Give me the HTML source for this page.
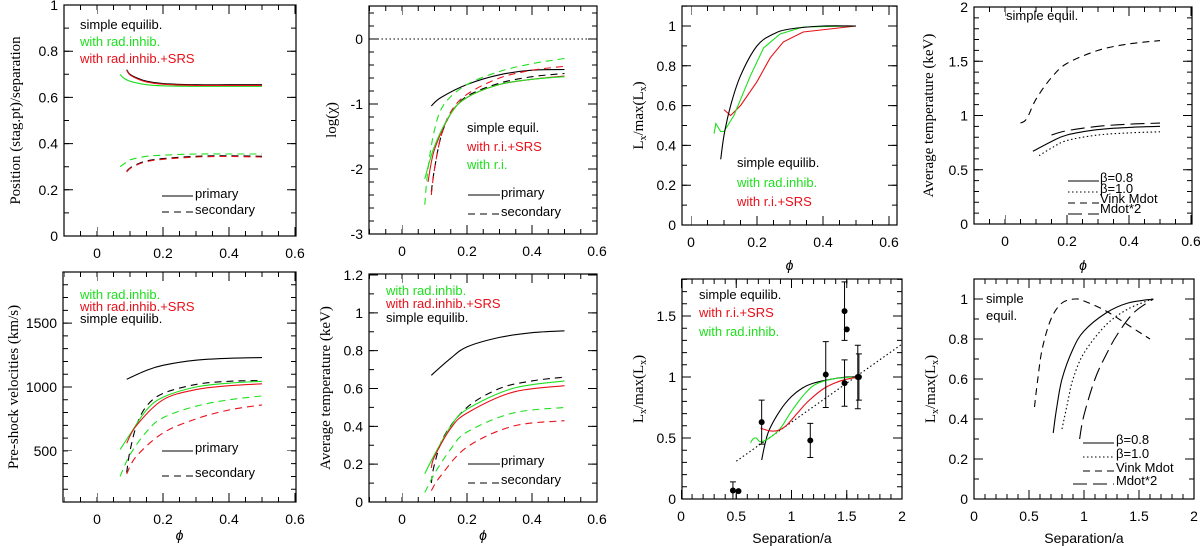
<!DOCTYPE html>
<html><head><meta charset="utf-8">
<style>
html,body{margin:0;padding:0;background:#fff;}
svg{display:block;font-family:"Liberation Sans",sans-serif;}
.tl{font-size:14px;fill:#000;}
.lg{font-size:13px;}
.yt{font-family:"Liberation Serif",serif;font-size:15px;}
</style></head>
<body>
<svg id="fig" width="1200" height="546" viewBox="0 0 1200 546" xmlns="http://www.w3.org/2000/svg"></svg>
<script>
// ---------- DATA ----------
const p1_blk_pri_x=[0.09,0.1,0.12,0.15,0.2,0.3,0.4,0.5];
const p1_blk_pri_y=[0.72,0.70,0.685,0.67,0.66,0.655,0.655,0.655];
const p1_grn_pri_x=[0.07,0.08,0.1,0.15,0.2,0.3,0.5];
const p1_grn_pri_y=[0.70,0.685,0.67,0.655,0.65,0.648,0.648];
const p1_blk_sec_x=[0.09,0.1,0.12,0.15,0.2,0.3,0.4,0.5];
const p1_blk_sec_y=[0.28,0.295,0.31,0.325,0.335,0.345,0.347,0.345];
const p1_grn_sec_x=[0.07,0.09,0.1,0.15,0.2,0.3,0.4,0.5];
const p1_grn_sec_y=[0.30,0.32,0.33,0.345,0.35,0.355,0.355,0.355];
const p2_x_bs=[0.09,0.12,0.2,0.3,0.4,0.5];
const p2_y_bs=[-1.03,-0.9,-0.7,-0.55,-0.48,-0.47];
const p2_x_bd=[0.09,0.1,0.12,0.15,0.2,0.3,0.4,0.5];
const p2_y_bd=[-2.35,-2.0,-1.5,-1.15,-0.88,-0.68,-0.58,-0.53];
const p2_x_rd=[0.09,0.1,0.12,0.15,0.2,0.3,0.4,0.5];
const p2_y_rd=[-2.4,-2.0,-1.5,-1.12,-0.85,-0.6,-0.48,-0.42];
const p2_x_rs=[0.08,0.1,0.15,0.2,0.3,0.4,0.5];
const p2_y_rs=[-2.2,-1.7,-1.15,-0.9,-0.7,-0.62,-0.57];
const p2_x_gs=[0.07,0.1,0.15,0.2,0.3,0.4,0.5];
const p2_y_gs=[-2.15,-1.65,-1.15,-0.9,-0.7,-0.62,-0.58];
const p2_x_gd=[0.07,0.08,0.1,0.13,0.2,0.3,0.4,0.5];
const p2_y_gd=[-2.55,-2.0,-1.4,-1.0,-0.7,-0.5,-0.38,-0.3];
const p3_x_b=[0.09,0.1,0.12,0.15,0.2,0.25,0.3,0.4,0.5];
const p3_y_b=[0.33,0.45,0.6,0.75,0.9,0.96,0.985,1.0,1.0];
const p3_x_g=[0.07,0.075,0.09,0.1,0.13,0.18,0.22,0.27,0.34,0.5];
const p3_y_g=[0.46,0.51,0.47,0.47,0.55,0.75,0.89,0.96,0.995,1.0];
const p3_x_r=[0.1,0.12,0.15,0.2,0.24,0.28,0.34,0.5];
const p3_y_r=[0.58,0.55,0.6,0.72,0.84,0.92,0.97,1.0];
const p4_x_vink=[0.05,0.07,0.1,0.15,0.2,0.3,0.4,0.5];
const p4_y_vink=[0.93,0.97,1.15,1.35,1.48,1.6,1.66,1.69];
const p4_x_b08=[0.09,0.15,0.2,0.3,0.4,0.5];
const p4_y_b08=[0.67,0.76,0.82,0.87,0.89,0.9];
const p4_x_b10=[0.11,0.15,0.2,0.3,0.4,0.5];
const p4_y_b10=[0.63,0.7,0.77,0.82,0.84,0.85];
const p4_x_m2=[0.15,0.2,0.3,0.4,0.5];
const p4_y_m2=[0.82,0.86,0.9,0.92,0.93];
const p5_x_bs=[0.09,0.15,0.2,0.3,0.4,0.5];
const p5_y_bs=[1060,1130,1170,1210,1225,1230];
const p5_x_bd=[0.09,0.1,0.12,0.15,0.2,0.3,0.4,0.5];
const p5_y_bd=[330,500,700,850,950,1020,1045,1050];
const p5_x_gs=[0.07,0.1,0.15,0.2,0.3,0.4,0.5];
const p5_y_gs=[510,630,820,920,1000,1030,1045];
const p5_x_rs=[0.09,0.12,0.2,0.3,0.4,0.5];
const p5_y_rs=[560,700,900,980,1010,1025];
const p5_x_gd=[0.07,0.1,0.15,0.2,0.3,0.4,0.5];
const p5_y_gd=[300,470,650,760,850,900,930];
const p5_x_rd=[0.09,0.12,0.2,0.3,0.4,0.5];
const p5_y_rd=[320,460,640,750,820,860];
const p6_x_bs=[0.09,0.15,0.2,0.3,0.4,0.5];
const p6_y_bs=[0.67,0.76,0.82,0.87,0.895,0.905];
const p6_x_bd=[0.09,0.1,0.13,0.2,0.3,0.4,0.5];
const p6_y_bd=[0.1,0.2,0.35,0.5,0.6,0.64,0.66];
const p6_x_gs=[0.07,0.1,0.15,0.2,0.34,0.5];
const p6_y_gs=[0.15,0.25,0.4,0.49,0.6,0.64];
const p6_x_rs=[0.09,0.1,0.15,0.2,0.34,0.5];
const p6_y_rs=[0.18,0.24,0.39,0.47,0.58,0.615];
const p6_x_gd=[0.07,0.1,0.15,0.2,0.34,0.5];
const p6_y_gd=[0.05,0.15,0.28,0.37,0.47,0.5];
const p6_x_rd=[0.09,0.12,0.2,0.34,0.5];
const p6_y_rd=[0.06,0.14,0.29,0.4,0.43];
const p7_obs_x=[0.47,0.52,0.73,1.17,1.31,1.48,1.5,1.48,1.6,1.61];
const p7_obs_y=[0.07,0.065,0.63,0.48,1.02,1.54,1.39,0.95,1.0,1.0];
const p7_obs_err=[0.07,0,0.18,0.14,0.27,0.24,0,0.19,0.26,0.19];
const p7_fit_x=[0.5,2.0];
const p7_fit_y=[0.31,1.27];
const p7_x_b=[0.73,0.76,0.8,0.9,1.0,1.1,1.2,1.35,1.5,1.6];
const p7_y_b=[0.32,0.45,0.57,0.73,0.84,0.91,0.95,0.98,1.0,1.0];
const p7_x_g=[0.63,0.65,0.68,0.72,0.8,0.9,1.0,1.1,1.2,1.35,1.55];
const p7_y_g=[0.46,0.49,0.5,0.47,0.5,0.58,0.72,0.84,0.93,0.98,1.0];
const p7_x_r=[0.72,0.8,0.87,0.95,1.05,1.15,1.3,1.45,1.6];
const p7_y_r=[0.58,0.56,0.56,0.6,0.7,0.8,0.91,0.97,1.0];
const p8_x_vink=[0.55,0.58,0.62,0.7,0.8,0.92,1.0,1.2,1.4,1.6];
const p8_y_vink=[0.46,0.6,0.75,0.9,0.98,1.0,0.99,0.94,0.87,0.8];
const p8_x_b08=[0.72,0.75,0.8,0.9,1.0,1.2,1.4,1.63];
const p8_y_b08=[0.33,0.45,0.6,0.75,0.84,0.93,0.98,1.0];
const p8_x_b10=[0.8,0.85,0.9,1.0,1.2,1.4,1.62];
const p8_y_b10=[0.35,0.48,0.6,0.73,0.87,0.95,1.0];
const p8_x_m2=[0.96,1.0,1.1,1.2,1.3,1.45,1.63];
const p8_y_m2=[0.3,0.42,0.6,0.72,0.82,0.93,1.0];
const phiTicks=[0,0.2,0.4,0.6];
const sepTicks=[0,0.5,1,1.5,2];

// ---------- DRAWING ----------
const NS="http://www.w3.org/2000/svg";
const svg=document.getElementById('fig');
const GRN="#1ee01e", RED="#e8101a";
function el(tag,attrs,parent){const e=document.createElementNS(NS,tag);for(const k in attrs)e.setAttribute(k,attrs[k]);(parent||svg).appendChild(e);return e;}
function fmt(v){return (Math.round(v*1000)/1000).toString();}
function smoothPath(pts){
  if(pts.length<3) return pts.map((p,i)=>(i?'L':'M')+p[0].toFixed(1)+' '+p[1].toFixed(1)).join(' ');
  let d='M'+pts[0][0].toFixed(1)+' '+pts[0][1].toFixed(1);
  for(let i=0;i<pts.length-1;i++){
    const p0=pts[Math.max(0,i-1)],p1=pts[i],p2=pts[i+1],p3=pts[Math.min(pts.length-1,i+2)];
    const c1=[p1[0]+(p2[0]-p0[0])/6,p1[1]+(p2[1]-p0[1])/6];
    const c2=[p2[0]-(p3[0]-p1[0])/6,p2[1]-(p3[1]-p1[1])/6];
    d+=` C${c1[0].toFixed(1)} ${c1[1].toFixed(1)} ${c2[0].toFixed(1)} ${c2[1].toFixed(1)} ${p2[0].toFixed(1)} ${p2[1].toFixed(1)}`;
  }
  return d;
}

function makePanel(cfg){
  const g=el('g',{});
  
  
  const [L,T,R,B]=cfg.box;
  const sx=v=>cfg.xm[1]+(v-cfg.xm[0])*(cfg.xm[3]-cfg.xm[1])/(cfg.xm[2]-cfg.xm[0]);
  const sy=v=>cfg.ym[1]+(v-cfg.ym[0])*(cfg.ym[3]-cfg.ym[1])/(cfg.ym[2]-cfg.ym[0]);
  const frame=el('rect',{x:L,y:T,width:R-L,height:B-T,fill:'none',stroke:'#000','stroke-width':1.2},g);
  
  
  // ticks drawn as dashed strokes along each edge
  function tickRow(x1,y1,x2,y2,step,len){
    const n=Math.hypot(x2-x1,y2-y1);
    const l=el('line',{x1:x1,y1:y1,x2:x2,y2:y2,stroke:'#000','stroke-width':len,'stroke-dasharray':`1 ${(step-1).toFixed(3)}`,'stroke-dashoffset':0.5},g);
    
    
  }
  const xr=cfg.xr, yr=cfg.yr;
  const xs0=sx(xr[0]), xs1=sx(xr[1]);
  const xmin=Math.abs(sx(cfg.xt[0])-sx(0)), xmaj=Math.abs(sx(cfg.xt[1])-sx(0));
  const ys0=sy(yr[0]), ys1=sy(yr[1]);
  const ymin=Math.abs(sy(cfg.yt[0])-sy(0)), ymaj=Math.abs(sy(cfg.yt[1])-sy(0));
  // first major tick offset
  const xfm=sx(Math.ceil(xr[0]/cfg.xt[1]-1e-6)*cfg.xt[1]);
  const yfm=sy(Math.ceil(yr[0]/cfg.yt[1]-1e-6)*cfg.yt[1]);
  tickRow(xs0,B-2.5,xs1+1,B-2.5,xmin,5);
  tickRow(xs0,T+2.5,xs1+1,T+2.5,xmin,5);
  tickRow(xfm,B-4.5,xs1+1,B-4.5,xmaj,9);
  tickRow(xfm,T+4.5,xs1+1,T+4.5,xmaj,9);
  tickRow(L+2.5,ys0,L+2.5,ys1-1,ymin,5);
  tickRow(R-2.5,ys0,R-2.5,ys1-1,ymin,5);
  tickRow(L+4.5,yfm,L+4.5,ys1-1,ymaj,9);
  tickRow(R-4.5,yfm,R-4.5,ys1-1,ymaj,9);
  cfg.xlabels.forEach(v=>{const t=el('text',{x:sx(v),y:B+22,'text-anchor':'middle',class:'tl'},g);t.textContent=fmt(v);
    });
  cfg.ylabels.forEach(v=>{const t=el('text',{x:L-6,y:sy(v)+5,'text-anchor':'end',class:'tl'},g);t.textContent=fmt(v);
    });
  const xt=el('text',{x:(L+R)/2,y:cfg.xtitleY,'text-anchor':'middle',class:'tl','font-style':cfg.xtitle==='ϕ'?'italic':'normal'},g);
  xt.textContent=cfg.xtitle;
  
  
  const yc=(T+B)/2;
  const yt=el('text',{x:cfg.ytitleX,y:yc,'text-anchor':'middle',class:'yt',transform:`rotate(-90 ${cfg.ytitleX} ${yc})`},g);
  yt.innerHTML=cfg.ytitle;
  
  
  const cid='clip'+cfg.name;
  const cp=el('clipPath',{id:cid},g);el('rect',{x:L,y:T,width:R-L,height:B-T},cp);
  const sg=el('g',{'clip-path':`url(#${cid})`},g);
  function series(xs,ys,color,dash,nm,straight){
    const pts=xs.map((x,i)=>[sx(x),sy(ys[i])]);
    const d=straight?pts.map((p,i)=>(i?'L':'M')+p[0].toFixed(1)+' '+p[1].toFixed(1)).join(' '):smoothPath(pts);
    const p=el('path',{d:d,fill:'none',stroke:color,'stroke-width':1.1,'stroke-dasharray':dash||'none'},sg);
    
    
  }
  function text(x,y,s,color,nm,cls){const t=el('text',{x:x,y:y,fill:color||'#000',class:cls||'lg'},g);t.innerHTML=s;
    return t;}
  function legLine(x1,x2,y,dash,nm){const l=el('line',{x1:x1,x2:x2,y1:y,y2:y,stroke:'#000','stroke-width':1,'stroke-dasharray':dash||'none'},g);
    }
  return {g,sx,sy,series,text,legLine,sg};
}
const DASH="7 5", LDASH="14 6", DOT="1.5 2.5";
const LXT='L<tspan font-size="10" dy="3">x</tspan><tspan dy="-3">/max(L</tspan><tspan font-size="10" dy="3">x</tspan><tspan dy="-3">)</tspan>';

// Panel 1
let P=makePanel({name:'panel-stag-position',box:[64,5,296,236],xm:[0,97,0.2,163],ym:[0,236,1,5],xr:[-0.1,0.6],yr:[0,1],xt:[0.05,0.2],yt:[0.1,0.2],
  xlabels:phiTicks,ylabels:[0,0.2,0.4,0.6,0.8,1],xtitle:'',xtitleY:268,ytitleX:20,ytitle:'Position (stag.pt)/separation'});
P.series(p1_grn_pri_x,p1_grn_pri_y,GRN,null,'green-primary');
P.series(p1_blk_pri_x,p1_blk_pri_y,'#000',null,'black-primary');
P.series(p1_blk_pri_x,p1_blk_pri_y.map(v=>v-0.003),RED,null,'red-primary');
P.series(p1_grn_sec_x,p1_grn_sec_y,GRN,DASH,'green-secondary');
P.series(p1_blk_sec_x,p1_blk_sec_y,'#000',DASH,'black-secondary');
P.series(p1_blk_sec_x,p1_blk_sec_y.map(v=>v-0.003),RED,DASH,'red-secondary');
P.text(80,29,'simple equilib.','#000','legend-simple');
P.text(80,46,'with rad.inhib.',GRN,'legend-radinhib');
P.text(80,63,'with rad.inhib.+SRS',RED,'legend-radinhib-srs');
P.legLine(162,193,196,null,'legend-line-primary');P.text(195,198,'primary','#000','legend-primary');
P.legLine(162,193,212,DASH,'legend-line-secondary');P.text(195,214,'secondary','#000','legend-secondary');

// Panel 2
P=makePanel({name:'panel-log-chi',box:[369,6,597,234],xm:[0,402,0.2,467],ym:[0,39,-3,234],xr:[-0.1,0.6],yr:[-3,0.4],xt:[0.05,0.2],yt:[0.2,1],
  xlabels:phiTicks,ylabels:[-3,-2,-1,0],xtitle:'',xtitleY:268,ytitleX:336,ytitle:'log(χ)'});
P.series([-0.1,0.6],[0,0],'#000',DOT,'zero-line',true);
P.series(p2_x_bs,p2_y_bs,'#000',null,'black-primary');
P.series(p2_x_gd,p2_y_gd,GRN,DASH,'green-secondary');
P.series(p2_x_bd,p2_y_bd,'#000',DASH,'black-secondary');
P.series(p2_x_rd,p2_y_rd,RED,DASH,'red-secondary');
P.series(p2_x_rs,p2_y_rs,RED,null,'red-primary');
P.series(p2_x_gs,p2_y_gs,GRN,null,'green-primary');
P.text(467,132,'simple equil.','#000','legend-simple');
P.text(467,151,'with r.i.+SRS',RED,'legend-ri-srs');
P.text(467,169,'with r.i.',GRN,'legend-ri');
P.legLine(468,500,195,null,'legend-line-primary');P.text(501,197,'primary','#000','legend-primary');
P.legLine(468,500,214,DASH,'legend-line-secondary');P.text(501,216,'secondary','#000','legend-secondary');

// Panel 3
P=makePanel({name:'panel-lx-phi',box:[682,6,897,225],xm:[0.2,757,0.4,823],ym:[0,225,1,26],xr:[0,0.6],yr:[0,1.1],xt:[0.05,0.2],yt:[0.1,0.2],
  xlabels:phiTicks,ylabels:[0,0.2,0.4,0.6,0.8,1],xtitle:'ϕ',xtitleY:270,ytitleX:643,ytitle:LXT});
P.series(p3_x_r,p3_y_r,RED,null,'red-curve',true);
P.series(p3_x_g,p3_y_g,GRN,null,'green-curve',true);
P.series(p3_x_b,p3_y_b,'#000',null,'black-curve');
P.text(737,167,'simple equilib.','#000','legend-simple');
P.text(737,187,'with rad.inhib.',GRN,'legend-radinhib');
P.text(737,206,'with r.i.+SRS',RED,'legend-ri-srs');

// Panel 4
P=makePanel({name:'panel-temp-wind',box:[974,7,1192,224],xm:[0,1005,0.2,1067],ym:[0,224,2,7],xr:[-0.1,0.6],yr:[0,2],xt:[0.05,0.2],yt:[0.1,0.5],
  xlabels:phiTicks,ylabels:[0,0.5,1,1.5,2],xtitle:'ϕ',xtitleY:270,ytitleX:933,ytitle:'Average temperature (keV)'});
P.series(p4_x_vink,p4_y_vink,'#000',DASH,'vink-mdot');
P.series(p4_x_b08,p4_y_b08,'#000',null,'beta-0.8');
P.series(p4_x_b10,p4_y_b10,'#000',DOT,'beta-1.0');
P.series(p4_x_m2,p4_y_m2,'#000',LDASH,'mdot-x2');
P.text(1006,20,'simple equil.','#000','panel-note');
P.legLine(1068,1099,181,null,'legend-line-beta08');P.text(1100,182,'β=0.8','#000','legend-beta08');
P.legLine(1068,1099,192,DOT,'legend-line-beta10');P.text(1100,193,'β=1.0','#000','legend-beta10');
P.legLine(1068,1099,203,DASH,'legend-line-vink');P.text(1100,203,'Vink Mdot','#000','legend-vink');
P.legLine(1068,1099,214,LDASH,'legend-line-mdot2');P.text(1100,213,'Mdot*2','#000','legend-mdot2');

// Panel 5
P=makePanel({name:'panel-velocity',box:[63,272,296,502],xm:[0,97,0.2,163],ym:[100,502,1900,272],xr:[-0.1,0.6],yr:[100,1900],xt:[0.05,0.2],yt:[100,500],
  xlabels:phiTicks,ylabels:[500,1000,1500],xtitle:'ϕ',xtitleY:540,ytitleX:18,ytitle:'Pre-shock velocities (km/s)'});
P.series(p5_x_bs,p5_y_bs,'#000',null,'black-primary');
P.series(p5_x_bd,p5_y_bd,'#000',DASH,'black-secondary');
P.series(p5_x_gs,p5_y_gs,GRN,null,'green-primary');
P.series(p5_x_rs,p5_y_rs,RED,null,'red-primary');
P.series(p5_x_gd,p5_y_gd,GRN,DASH,'green-secondary');
P.series(p5_x_rd,p5_y_rd,RED,DASH,'red-secondary');
P.text(80,299,'with rad.inhib.',GRN,'legend-radinhib');
P.text(80,311,'with rad.inhib.+SRS',RED,'legend-radinhib-srs');
P.text(80,323,'simple equilib.','#000','legend-simple');
P.legLine(162,193,451,null,'legend-line-primary');P.text(195,452,'primary','#000','legend-primary');
P.legLine(162,193,476,DASH,'legend-line-secondary');P.text(195,477,'secondary','#000','legend-secondary');

// Panel 6
P=makePanel({name:'panel-temperature',box:[369,274,597,502],xm:[0,402,0.2,467],ym:[0,502,1.2,275],xr:[-0.1,0.6],yr:[0,1.2],xt:[0.05,0.2],yt:[0.1,0.2],
  xlabels:phiTicks,ylabels:[0,0.2,0.4,0.6,0.8,1,1.2],xtitle:'ϕ',xtitleY:540,ytitleX:330,ytitle:'Average temperature (keV)'});
P.series(p6_x_bs,p6_y_bs,'#000',null,'black-primary');
P.series(p6_x_bd,p6_y_bd,'#000',DASH,'black-secondary');
P.series(p6_x_gs,p6_y_gs,GRN,null,'green-primary');
P.series(p6_x_rs,p6_y_rs,RED,null,'red-primary');
P.series(p6_x_gd,p6_y_gd,GRN,DASH,'green-secondary');
P.series(p6_x_rd,p6_y_rd,RED,DASH,'red-secondary');
P.text(386,295,'with rad.inhib.',GRN,'legend-radinhib');
P.text(386,308,'with rad.inhib.+SRS',RED,'legend-radinhib-srs');
P.text(386,322,'simple equilib.','#000','legend-simple');
P.legLine(468,500,464,null,'legend-line-primary');P.text(501,465,'primary','#000','legend-primary');
P.legLine(468,500,483,DASH,'legend-line-secondary');P.text(501,484,'secondary','#000','legend-secondary');

// Panel 7
P=makePanel({name:'panel-lx-separation',box:[682,279,902,499],xm:[0,681,2,902],ym:[0,499,1,377],xr:[0,2],yr:[0,1.8],xt:[0.1,0.5],yt:[0.1,0.5],
  xlabels:sepTicks,ylabels:[0,0.5,1,1.5],xtitle:'Separation/a',xtitleY:543,ytitleX:643,ytitle:LXT});
P.series(p7_fit_x,p7_fit_y,'#000',DOT,'linear-fit',true);
P.series(p7_x_b,p7_y_b,'#000',null,'black-curve');
P.series(p7_x_g,p7_y_g,GRN,null,'green-curve');
P.series(p7_x_r,p7_y_r,RED,null,'red-curve');
p7_obs_x.forEach((x,i)=>{
  const cx=P.sx(x),cy=P.sy(p7_obs_y[i]);
  if(p7_obs_err[i]>0){
    const y1=P.sy(p7_obs_y[i]-p7_obs_err[i]),y2=P.sy(p7_obs_y[i]+p7_obs_err[i]);
    const eb=el('path',{d:`M${cx} ${y1}L${cx} ${y2}M${cx-3} ${y1}L${cx+3} ${y1}M${cx-3} ${y2}L${cx+3} ${y2}`,stroke:'#000','stroke-width':1,fill:'none'},P.g);
    
    
  }
  const c=el('circle',{cx:cx,cy:cy,r:3,fill:'#000'},P.g);
  
  
});
P.text(699,299,'simple equilib.','#000','legend-simple');
P.text(699,317,'with r.i.+SRS',RED,'legend-ri-srs');
P.text(699,336,'with rad.inhib.',GRN,'legend-radinhib');

// Panel 8
P=makePanel({name:'panel-lx-separation-wind',box:[974,279,1194,499],xm:[0,974,2,1194],ym:[0,499,1,299],xr:[0,2],yr:[0,1.1],xt:[0.1,0.5],yt:[0.1,0.2],
  xlabels:sepTicks,ylabels:[0,0.2,0.4,0.6,0.8,1],xtitle:'Separation/a',xtitleY:543,ytitleX:935,ytitle:LXT});
P.series(p8_x_vink,p8_y_vink,'#000',DASH,'vink-mdot');
P.series(p8_x_b08,p8_y_b08,'#000',null,'beta-0.8');
P.series(p8_x_b10,p8_y_b10,'#000',DOT,'beta-1.0');
P.series(p8_x_m2,p8_y_m2,'#000',LDASH,'mdot-x2');
P.text(986,303,'simple','#000','panel-note');
P.text(986,320,'equil.','#000','panel-note-2');
P.legLine(1083,1114,443,null,'legend-line-beta08');P.text(1116,444,'β=0.8','#000','legend-beta08');
P.legLine(1083,1114,457,DOT,'legend-line-beta10');P.text(1116,458,'β=1.0','#000','legend-beta10');
P.legLine(1083,1114,471,DASH,'legend-line-vink');P.text(1116,472,'Vink Mdot','#000','legend-vink');
P.legLine(1073,1114,484,LDASH,'legend-line-mdot2');P.text(1116,485,'Mdot*2','#000','legend-mdot2');
</script>
</body></html>
